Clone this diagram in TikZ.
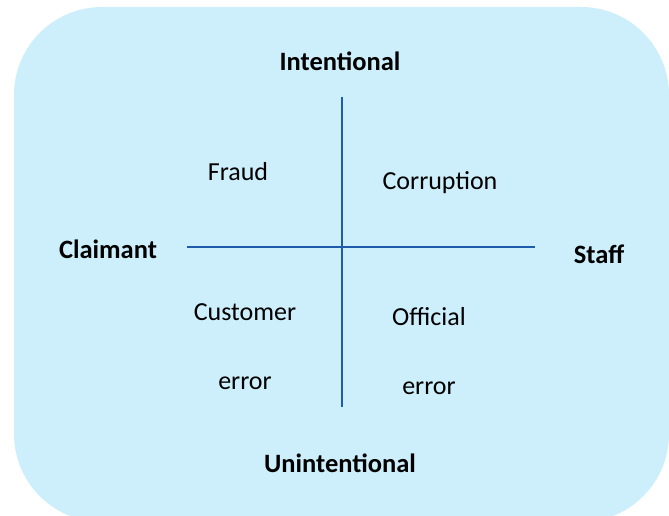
\documentclass[tikz,border=0pt]{standalone}
\usepackage{fontspec}
\setmainfont{Carlito}

\definecolor{boxblue}{HTML}{CDEFFB}
\definecolor{axisblue}{HTML}{1E5BAA}

\tikzset{
  axislabel/.style={font=\fontsize{26.5}{30}\selectfont\bfseries,inner sep=1pt},
  quadlabel/.style={font=\fontsize{26}{30}\selectfont,inner sep=1pt},
  axisline/.style={axisblue,line width=1.8pt}
}

\begin{document}
\begin{tikzpicture}[x=1pt,y=-1pt]
  \useasboundingbox (0,0) rectangle (669,516);
  \fill[boxblue,rounded corners=88pt] (14,7) rectangle (669,522);

  \coordinate (top) at (342,97);
  \coordinate (bottom) at (342,407);
  \coordinate (left) at (187,247);
  \coordinate (right) at (535,247);

  \draw[axisline] (left) -- (right);
  \draw[axisline] (top) -- (bottom);

  \node[axislabel] (intentional) at (340,61) {Intentional};
  \node[axislabel] (unintentional) at (340,463) {Unintentional};
  \node[axislabel] (claimant) at (108,249) {Claimant};
  \node[axislabel] (staff) at (599,254) {Staff};

  \node[quadlabel] (fraud) at (238,172) {Fraud};
  \node[quadlabel] (corruption) at (440,183) {Corruption};
  \node[quadlabel] (customer) at (245,312) {Customer};
  \node[quadlabel] (custerror) at (245,383) {error};
  \node[quadlabel] (official) at (429,317) {Official};
  \node[quadlabel] (offerror) at (429,388) {error};
\end{tikzpicture}
\end{document}
